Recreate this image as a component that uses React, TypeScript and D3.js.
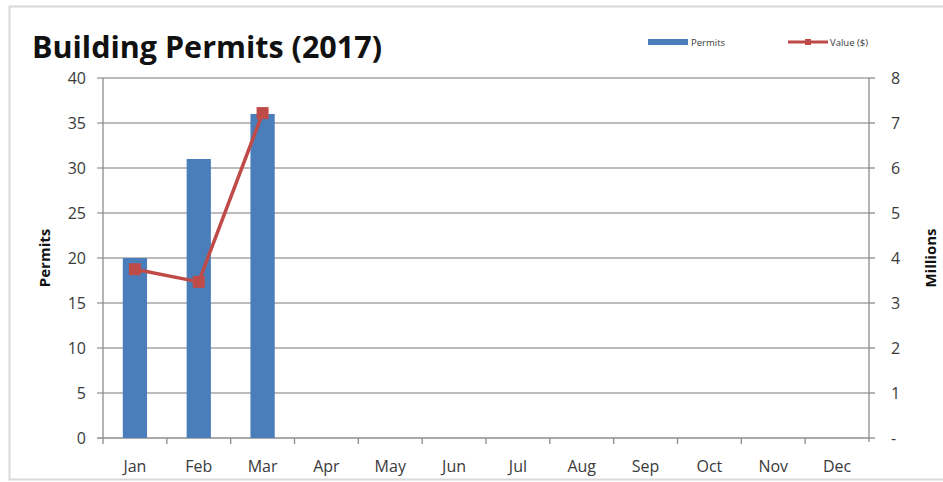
import React from "react";
import * as d3 from "d3";

const months = ["Jan","Feb","Mar","Apr","May","Jun","Jul","Aug","Sep","Oct","Nov","Dec"];
const permits = [20, 31, 36];
const valueMillions = [3.75, 3.47, 7.22];
const leftTicks = [0, 5, 10, 15, 20, 25, 30, 35, 40];
const rightTicks = [0, 1, 2, 3, 4, 5, 6, 7, 8];

const W = 943, H = 482;
const m = { left: 103, right: 869, top: 78, bottom: 438 };
const FONT = "'Open Sans', 'Liberation Sans', sans-serif";
const BLUE = "#4a7ebb";
const RED = "#be4b48";
const TXT = "#3a3a3a";

export default function App() {
  const x = d3.scaleBand<string>().domain(months).range([m.left, m.right]).paddingInner(0.62).paddingOuter(0.31);
  const xb = d3.scaleBand<string>().domain(months).range([m.left, m.right]);
  const yL = d3.scaleLinear().domain([0, 40]).range([m.bottom, m.top]);
  const yR = d3.scaleLinear().domain([0, 8]).range([m.bottom, m.top]);
  const line = d3.line<number>()
    .x((_, i) => (xb(months[i]) as number) + xb.bandwidth() / 2)
    .y((d) => yR(d));
  const ms = 12;
  return (
    <svg width={W} height={H} style={{ position: "absolute", left: 0, top: 0, fontFamily: FONT }}>
      <rect x={0} y={0} width={W} height={H} fill="#fff" />
      <rect x={9.5} y={6.5} width={W} height={473} fill="none" stroke="#d9d9d9" strokeWidth={2} />
      <text x={32} y={58} fontSize={30.5} fontWeight={700} fill="#111">Building Permits (2017)</text>
      {/* legend */}
      <rect x={648} y={39} width={40} height={6} fill={BLUE} />
      <text x={691} y={45.5} fontSize={9.5} fill={TXT}>Permits</text>
      <line x1={788} x2={828} y1={42} y2={42} stroke={RED} strokeWidth={3} />
      <rect x={805} y={39} width={6} height={6} fill={RED} />
      <text x={830} y={45.5} fontSize={9.5} fill={TXT}>Value ($)</text>
      {/* grid */}
      {leftTicks.map((t) => (
        <g key={"g" + t}>
          <line x1={m.left - 6} x2={m.right} y1={yL(t)} y2={yL(t)} stroke={t === 0 ? "#8c8c8c" : "#a6a6a6"} strokeWidth={1.3} />
          <text x={86} y={yL(t)} dy="0.35em" textAnchor="end" fontSize={16} fill={TXT}>{t}</text>
        </g>
      ))}
      {rightTicks.map((t) => (
        <g key={"r" + t}>
          <line x1={m.right} x2={m.right + 6} y1={yR(t)} y2={yR(t)} stroke="#8c8c8c" strokeWidth={1.3} />
          <text x={891} y={yR(t)} dy="0.35em" textAnchor="start" fontSize={16} fill={TXT}>{t === 0 ? "-" : t}</text>
        </g>
      ))}
      <line x1={m.left} x2={m.left} y1={m.top} y2={m.bottom} stroke="#8c8c8c" strokeWidth={1.3} />
      <line x1={m.right} x2={m.right} y1={m.top} y2={m.bottom + 4} stroke="#8c8c8c" strokeWidth={1.3} />
      {months.map((mo, i) => (
        <g key={mo}>
          <line x1={(xb(mo) as number)} x2={(xb(mo) as number)} y1={m.bottom} y2={m.bottom + 6} stroke="#8c8c8c" strokeWidth={1.3} />
          <text x={(xb(mo) as number) + xb.bandwidth() / 2} y={472} textAnchor="middle" fontSize={16} fill={TXT}>{mo}</text>
        </g>
      ))}
      {/* bars */}
      {permits.map((v, i) => (
        <rect key={"b" + i} x={x(months[i])} y={yL(v)} width={x.bandwidth()} height={m.bottom - yL(v)} fill={BLUE} />
      ))}
      <path d={line(valueMillions) || ""} fill="none" stroke={RED} strokeWidth={3.5} />
      {valueMillions.map((v, i) => (
        <rect key={"m" + i} x={(xb(months[i]) as number) + xb.bandwidth() / 2 - ms / 2} y={yR(v) - ms / 2} width={ms} height={ms} fill={RED} />
      ))}
      <text transform={`translate(50,258) rotate(-90)`} textAnchor="middle" fontSize={15} fontWeight={700} fill="#111">Permits</text>
      <text transform={`translate(936,258) rotate(-90)`} textAnchor="middle" fontSize={15} fontWeight={700} fill="#111">Millions</text>
    </svg>
  );
}
